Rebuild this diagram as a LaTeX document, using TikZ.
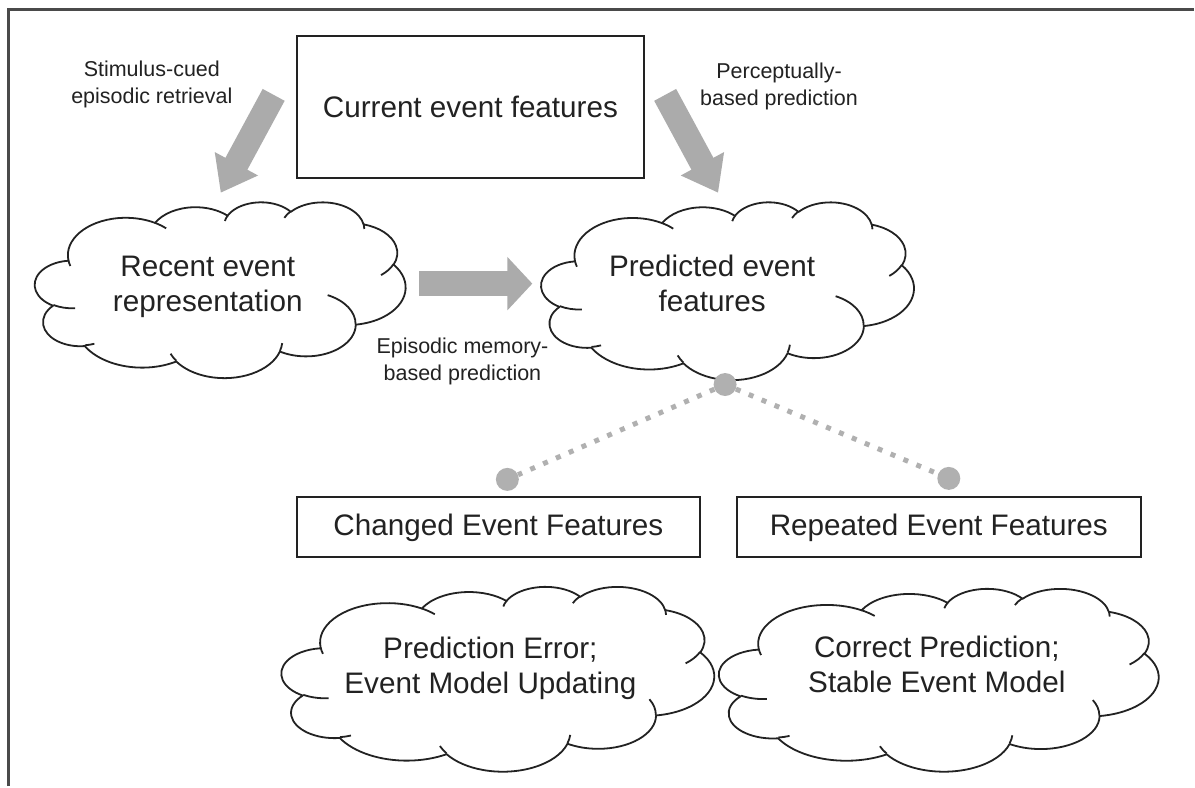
\documentclass[tikz,border=0pt]{standalone}
\usepackage{fontspec}
\setmainfont{Liberation Sans}
\usetikzlibrary{arrows.meta}
\definecolor{ink}{HTML}{222222}
\definecolor{arrowgray}{HTML}{ABABAB}
\definecolor{dotgray}{HTML}{B0B0B0}
\definecolor{framegray}{HTML}{4A4A4A}
\newcommand\mybigfont{\fontsize{29.7}{35.5}\selectfont}
\newcommand\mysmallfont{\fontsize{21.5}{27}\selectfont}
% elliptical arc given by visual angles (start, sweep)
\newcommand\ooarc[4]{\pgfextra{%
  \pgfmathsetmacro\oots{atan2((#1)*sin(#3),(#2)*cos(#3))}%
  \pgfmathsetmacro\oote{atan2((#1)*sin((#3)+(#4)),(#2)*cos((#3)+(#4)))}%
  \pgfmathsetmacro\oodd{mod(\oote-\oots+720,360)}%
  \xdef\oots{\oots}\xdef\oodd{\oodd}}
  arc[start angle=\oots, delta angle=\oodd, x radius=#1pt, y radius=#2pt]}
\def\hookfull{(341.29pt,229.54pt) \ooarc{57.85}{78.67}{-70.292}{70.917}}
\def\hookshort{(367.38pt,264.25pt) \ooarc{57.85}{78.67}{-35}{35.625}}
% cloud: top-left corner (x,y), width, height, right inner hook
\newcommand\pptcloud[5]{%
  \begin{scope}[shift={(#1,#2)}, xscale=#3/432, yscale=-#4/432]
    \draw[cloudline, fill=white] (39pt,143.7pt)
      \ooarc{67.53}{91.90}{-190.487}{123.781}
      \ooarc{53.33}{72.67}{-144.102}{89.945}
      \ooarc{43.65}{59.45}{-145.808}{99.723}
      \ooarc{48.57}{65.95}{-130.986}{117.242}
      \ooarc{53.33}{72.73}{-78.709}{109.027}
      \ooarc{67.75}{92.20}{-46.267}{130.269}
      \ooarc{57.85}{78.67}{0.625}{114.033}
      \ooarc{67.52}{92.15}{22.452}{115.173}
      \ooarc{77.20}{105.43}{66.243}{75.711}
      \ooarc{43.60}{59.18}{-274.942}{146.736}
      \ooarc{43.45}{59.45}{-246.829}{152.519}
      -- cycle;
    \draw[cloudline]
      (46.93pt,261.77pt) \ooarc{43.45}{59.45}{86.742}{26.430}
      (69.28pt,348.99pt) \ooarc{43.60}{59.18}{73.610}{11.447}
      (164.78pt,390.90pt) \ooarc{67.52}{92.15}{137.624}{14.081}
      (288.27pt,347.51pt) \ooarc{67.52}{92.15}{6.453}{15.998}
      #5
      (417.98pt,153.54pt) \ooarc{53.33}{72.73}{30.318}{27.752}
      (383.24pt,54.26pt) \ooarc{48.57}{65.95}{-13.744}{14.853}
      (290.78pt,39.52pt) \ooarc{48.57}{65.95}{-149.181}{18.194}
      (221.41pt,47.20pt) \ooarc{43.65}{59.45}{-163.494}{17.691}
      (140.00pt,51.92pt) \ooarc{67.53}{91.90}{-66.707}{12.319}
      (41.27pt,157.89pt) \ooarc{67.53}{91.90}{157.654}{11.858};
  \end{scope}}
\begin{document}
\begin{tikzpicture}[x=1pt,y=-1pt,
  box/.style={draw=ink, line width=2pt, inner sep=0pt, text=ink, font=\mybigfont},
  cloudline/.style={draw=ink, line width=1.8pt, line join=round},
  ctext/.style={align=center, text=ink, font=\mybigfont, inner sep=0pt},
  ltext/.style={align=center, text=ink, font=\mysmallfont, inner sep=0pt},
  diagarrow/.style={arrowgray, line width=25pt, -{Triangle[length=33pt, width=47pt]}},
  horarrow/.style={arrowgray, line width=25pt, -{Triangle[length=25pt, width=52pt]}},
  dot/.style={circle, fill=dotgray, minimum size=23pt, inner sep=0pt},
  dotline/.style={dotgray, line width=5pt, dash pattern=on 5pt off 9pt}
]
\fill[white] (0,0) rectangle (1195,787);
\draw[framegray, line width=3pt] (9,787) -- (9,10) -- (1195,10);

% boxes
\node[box, minimum width=348pt, minimum height=142pt] (cur) at (471,107) {Current event features};
\node[box, minimum width=404pt, minimum height=60pt] (chg) at (499,528) {Changed Event Features};
\node[box, minimum width=404pt, minimum height=60pt] (rep) at (940,528) {Repeated Event Features};

% clouds
\pptcloud{35}{202}{371}{176}{\hookfull}
\pptcloud{542}{202}{373}{178}{\hookfull}
\pptcloud{282}{587}{433}{185}{\hookshort}
\pptcloud{720}{589}{440}{183}{\hookshort}

\node[ctext] (recentT) at (208,287.4) {Recent event\\representation};
\node[ctext] (predT) at (713,284) {Predicted event\\features};
\node[ctext] (errT) at (491,669.4) {Prediction Error;\\Event Model Updating};
\node[ctext] (corrT) at (938,665) {Correct Prediction;\\Stable Event Model};

% labels
\node[ltext] (lab1) at (152,85) {Stimulus-cued\\episodic retrieval};
\node[ltext] (lab2) at (780,86.5) {Perceptually-\\based prediction};
\node[ltext] (lab3) at (463,362) {Episodic memory-\\based prediction};

% block arrows
\coordinate (a1s) at (274,95);  \coordinate (a1e) at (221,193);
\coordinate (a2s) at (666,95);  \coordinate (a2e) at (719,193);
\coordinate (a3s) at (420,284); \coordinate (a3e) at (533,284);
\draw[diagarrow] (a1s) -- (a1e);
\draw[diagarrow] (a2s) -- (a2e);
\draw[horarrow] (a3s) -- (a3e);

% dotted connectors
\node[dot] (dtop) at (726,385) {};
\node[dot] (dleft) at (508,480) {};
\node[dot] (dright) at (950,479) {};
\draw[dotline] (dtop) -- (dleft);
\draw[dotline] (dtop) -- (dright);
\end{tikzpicture}
\end{document}
